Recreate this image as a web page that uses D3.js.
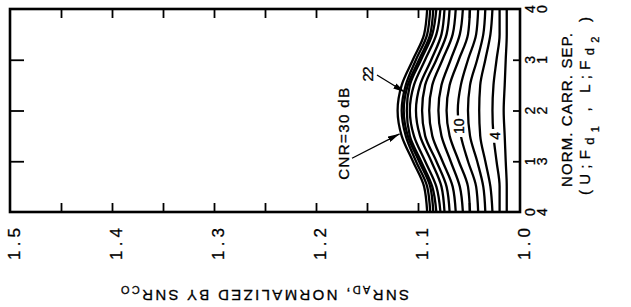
<!DOCTYPE html>
<html>
<head>
<meta charset="utf-8">
<script src="https://cdn.jsdelivr.net/npm/d3@7"></script>
<style>
  body { margin: 0; background: #fff; }
  svg text { font-family: "Liberation Sans", Arial, sans-serif; fill: #000; stroke: #000; stroke-width: 0.3; }
</style>
</head>
<body>
<svg width="631" height="307"></svg>
<script>
// normalized carrier separation at which the curves were read (vertical axis)
var sepValues = [0, 0.5, 1, 1.5, 2, 2.5, 3, 3.5, 4];

// SNR_AD normalized by SNR_CO, one array per CNR curve
var snr30 = [1.091, 1.094, 1.105, 1.116, 1.120, 1.116, 1.105, 1.094, 1.091];
var snr28 = [1.088, 1.091, 1.102, 1.112, 1.116, 1.112, 1.102, 1.091, 1.088];
var snr26 = [1.085, 1.088, 1.099, 1.110, 1.114, 1.110, 1.099, 1.088, 1.085];
var snr24 = [1.082, 1.086, 1.097, 1.108, 1.111, 1.108, 1.097, 1.086, 1.082];
var snr22 = [1.078, 1.082, 1.093, 1.104, 1.108, 1.104, 1.093, 1.082, 1.078];
var snr20 = [1.074, 1.077, 1.087, 1.098, 1.102, 1.098, 1.087, 1.077, 1.074];
var snr18 = [1.069, 1.072, 1.082, 1.093, 1.096, 1.093, 1.082, 1.072, 1.069];
var snr16 = [1.063, 1.066, 1.076, 1.086, 1.089, 1.086, 1.076, 1.066, 1.063];
var snr14 = [1.056, 1.059, 1.068, 1.077, 1.080, 1.077, 1.068, 1.059, 1.056];
var snr12 = [1.049, 1.051, 1.060, 1.069, 1.072, 1.069, 1.060, 1.051, 1.049];
var snr10 = [1.041, 1.043, 1.051, 1.058, 1.061, 1.058, 1.051, 1.043, 1.041];
var snr8  = [1.034, 1.036, 1.042, 1.049, 1.051, 1.049, 1.042, 1.036, 1.034];
var snr6  = [1.027, 1.029, 1.034, 1.039, 1.040, 1.039, 1.034, 1.029, 1.027];
var snr4  = [1.020, 1.020, 1.023, 1.026, 1.027, 1.026, 1.023, 1.020, 1.020];
var snr2  = [1.013, 1.013, 1.014, 1.015, 1.016, 1.015, 1.014, 1.013, 1.013];

var cnrLevels = [30, 28, 26, 24, 22, 20, 18, 16, 14, 12, 10, 8, 6, 4, 2];
var curveValues = [snr30, snr28, snr26, snr24, snr22, snr20, snr18, snr16,
    snr14, snr12, snr10, snr8, snr6, snr4, snr2];

// axis ticks and labels
var ratioTicks = [1.5, 1.45, 1.4, 1.35, 1.3, 1.25, 1.2, 1.15, 1.1, 1.05, 1.0];
var ratioLabelValues = [1.5, 1.4, 1.3, 1.2, 1.1, 1.0];
var ratioLabels = ['1.5', '1.4', '1.3', '1.2', '1.1', '1.0'];
var sepTicks = [0, 1, 2, 3, 4];
var innerSepLabels = ['0', '1', '2', '3', '4'];
var outerSepLabels = ['4', '3', '2', '1', '0'];

// in-plot annotations, positions in data units [ratio, separation]
var curveLabels = [{text: '10', at: [1.0595, 1.69]}, {text: '4', at: [1.025, 1.5]}];
var arrowNotes = [
    {text: 'CNR=30 dB', at: [1.1735, 1.54], from: [1.1647, 1.06], to: [1.118, 1.54], len: 92},
    {text: '22', at: [1.150, 2.72], from: [1.1402, 2.70], to: [1.1127, 2.36], len: 15}
];

var svg = d3.select('svg');
var plot = {l: 10, r: 520, t: 9, b: 212};

var xScale = d3.scaleLinear().domain([1.5, 1.0]).range([plot.l, plot.r]);
var yScale = d3.scaleLinear().domain([0, 4]).range([plot.b, plot.t]);

// arrow head
svg.append('defs').append('marker')
    .attr('id', 'head')
    .attr('viewBox', '0 0 12 6')
    .attr('refX', 12).attr('refY', 3)
    .attr('markerWidth', 12).attr('markerHeight', 6)
    .attr('markerUnits', 'userSpaceOnUse')
    .attr('orient', 'auto')
    .append('path').attr('d', 'M0,0L12,3L0,6Z').attr('fill', '#000');

// curves
var line = d3.line()
    .x(function(d){ return xScale(d[1]); })
    .y(function(d){ return yScale(d[0]); })
    .curve(d3.curveMonotoneY);

svg.append('g').attr('class', 'curves')
    .selectAll('path')
    .data(curveValues)
    .enter().append('path')
    .attr('d', function(vals){ return line(d3.zip(sepValues, vals)); })
    .attr('fill', 'none')
    .attr('stroke', '#000')
    .attr('stroke-width', 2.3);

// ticks on the four sides
function ticks(axis, tx, ty, size) {
    var g = svg.append('g')
        .attr('transform', 'translate(' + [tx, ty] + ')')
        .call(axis.tickSize(size).tickSizeOuter(0).tickFormat(''));
    g.select('.domain').remove();
    g.selectAll('line').attr('stroke', '#000').attr('stroke-width', 1.8);
}
var innerRatio = ratioTicks.slice(1, -1);
var innerSep = sepTicks.slice(1, -1);
ticks(d3.axisTop(xScale).tickValues(innerRatio), 0, plot.t, -9);
ticks(d3.axisBottom(xScale).tickValues(innerRatio), 0, plot.b, -9);
ticks(d3.axisLeft(yScale).tickValues(innerSep), plot.l, 0, -14);
ticks(d3.axisRight(yScale).tickValues(innerSep), plot.r, 0, -7);

// frame
svg.append('rect')
    .attr('x', plot.l).attr('y', plot.t)
    .attr('width', plot.r - plot.l).attr('height', plot.b - plot.t)
    .attr('fill', 'none').attr('stroke', '#000').attr('stroke-width', 2.6);

// ratio tick labels, reading upwards
svg.append('g').selectAll('text')
    .data(ratioLabelValues)
    .enter().append('text')
    .attr('transform', function(d){ return 'translate(' + [xScale(d) + 4, 244] + ') rotate(-90)'; })
    .attr('text-anchor', 'middle')
    .attr('dominant-baseline', 'central')
    .attr('font-size', 17)
    .attr('textLength', 32)
    .text(function(d, i){ return ratioLabels[i]; });

// separation labels, two columns on the right
function sepColumn(labels, x) {
    svg.append('g').selectAll('text')
        .data(sepTicks)
        .enter().append('text')
        .attr('transform', function(d){ return 'translate(' + [x, yScale(d)] + ') rotate(-90)'; })
        .attr('text-anchor', 'middle')
        .attr('dominant-baseline', 'central')
        .attr('font-size', 14)
        .text(function(d, i){ return labels[i]; });
}
sepColumn(innerSepLabels, 530);
sepColumn(outerSepLabels, 542);

// right axis title
svg.append('text')
    .attr('transform', 'translate(572,110) rotate(-90)')
    .attr('text-anchor', 'middle')
    .attr('font-size', 15)
    .attr('textLength', 154)
    .text('NORM. CARR. SEP.');

var t2 = svg.append('text')
    .attr('transform', 'translate(590,106) rotate(-90)')
    .attr('text-anchor', 'middle')
    .attr('font-size', 15)
    .attr('textLength', 178);
t2.append('tspan').text('(U;F');
t2.append('tspan').attr('dy', 4).attr('font-size', 13).text('d');
t2.append('tspan').attr('dy', 5).attr('font-size', 11).text('1');
t2.append('tspan').attr('dy', -9).text(' , L;F');
t2.append('tspan').attr('dy', 4).attr('font-size', 13).text('d');
t2.append('tspan').attr('dy', 5).attr('font-size', 11).text('2');
t2.append('tspan').attr('dy', -9).text(' )');

// bottom axis title, upside down as in the print
var t3 = svg.append('text')
    .attr('transform', 'translate(265,290) rotate(180)')
    .attr('text-anchor', 'middle')
    .attr('font-size', 15)
    .attr('textLength', 288);
t3.append('tspan').text('SNR');
t3.append('tspan').attr('dy', 4).attr('font-size', 11).text('AD');
t3.append('tspan').attr('dy', -4).text(',  NORMALIZED BY SNR');
t3.append('tspan').attr('dy', 4).attr('font-size', 11).text('CO');

// labels sitting in gaps of the curves
curveLabels.forEach(function(c){
    var g = svg.append('g')
        .attr('transform', 'translate(' + [xScale(c.at[0]), yScale(c.at[1])] + ') rotate(-90)');
    var bg = g.append('rect').attr('fill', '#fff');
    var txt = g.append('text')
        .attr('text-anchor', 'middle')
        .attr('dominant-baseline', 'central')
        .attr('font-size', 14)
        .text(c.text);
    var w = txt.node().getComputedTextLength() + 6;
    bg.attr('x', -w / 2).attr('y', -6).attr('width', w).attr('height', 12);
});

// arrows with their labels
arrowNotes.forEach(function(a){
    svg.append('line')
        .attr('x1', xScale(a.from[0])).attr('y1', yScale(a.from[1]))
        .attr('x2', xScale(a.to[0])).attr('y2', yScale(a.to[1]))
        .attr('stroke', '#000').attr('stroke-width', 1.3)
        .attr('marker-end', 'url(#head)');
    svg.append('text')
        .attr('transform', 'translate(' + [xScale(a.at[0]), yScale(a.at[1])] + ') rotate(-90)')
        .attr('text-anchor', 'middle')
        .attr('dominant-baseline', 'central')
        .attr('font-size', 15)
        .attr('textLength', a.len)
        .text(a.text);
});
</script>
</body>
</html>
